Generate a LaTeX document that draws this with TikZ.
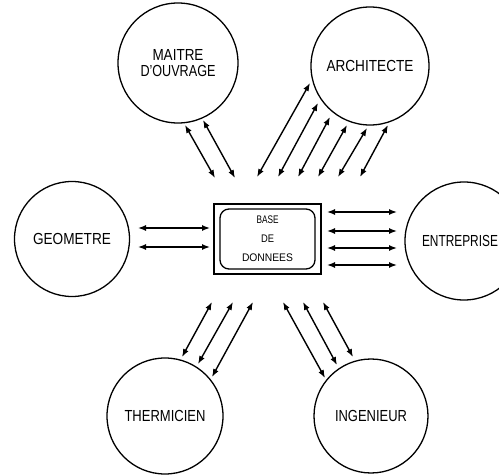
\documentclass[tikz,border=0pt]{standalone}
\usepackage{fontspec}
\setmainfont{Liberation Sans}
\usetikzlibrary{arrows.meta}
\newcommand{\fw}[2]{\resizebox{#1pt}{\height}{#2}}
\begin{document}
\begin{tikzpicture}[x=1pt,y=-1pt,
  actor/.style={circle,draw,line width=1.3pt,inner sep=0pt,align=center,
    font=\fontsize{16}{16}\selectfont},
  arr/.style={{Latex[length=8pt,width=6pt]}-{Latex[length=8pt,width=6pt]},line width=1.4pt},
  frame/.style={draw,line width=1.3pt,inner sep=0pt},
  dbbox/.style={draw,line width=1.3pt,rounded corners=9pt,inner sep=0pt,align=center,
    font=\fontsize{11}{19}\selectfont}]
\clip (0,0) rectangle (499,476);
\fill[white] (0,0) rectangle (499,476);

% actors
\node[actor,minimum size=120pt] (mo) at (178,63) {\fw{51}{MAITRE}\\\fw{75}{D'OUVRAGE}};
\node[actor,minimum size=118pt] (ar) at (370,66) {\fw{87}{ARCHITECTE}};
\node[actor,minimum size=115pt] (ge) at (72,239) {\fw{78}{GEOMETRE}};
\node[actor,minimum size=118pt] (en) at (464,241) {\hspace*{-8pt}\fw{76}{ENTREPRISE}};
\node[actor,minimum size=116pt] (th) at (165,416) {\fw{81}{THERMICIEN}};
\node[actor,minimum size=114pt] (in) at (371,416) {\fw{72}{INGENIEUR}};

% central data base
\node[frame,minimum width=107pt,minimum height=70pt] (frm) at (267.5,239) {};
\node[dbbox,minimum width=95pt,minimum height=60pt] (db) at (267.5,239)
  {\fw{22}{BASE}\\\fw{13}{DE}\\\fw{51}{DONNEES}};

% arrow ends
\coordinate (g1a) at (138,228); \coordinate (g1b) at (210,228);
\coordinate (g2a) at (138,247); \coordinate (g2b) at (210,247);
\coordinate (e1a) at (327,212); \coordinate (e1b) at (397,212);
\coordinate (e2a) at (327,231); \coordinate (e2b) at (397,231);
\coordinate (e3a) at (327,248); \coordinate (e3b) at (397,248);
\coordinate (e4a) at (327,265); \coordinate (e4b) at (397,265);
\coordinate (m1a) at (185,125); \coordinate (m1b) at (215,178);
\coordinate (m2a) at (203,120); \coordinate (m2b) at (235,178);
\coordinate (a1a) at (257,177); \coordinate (a1b) at (310,83);
\coordinate (a2a) at (278,177); \coordinate (a2b) at (318,103);
\coordinate (a3a) at (298,177); \coordinate (a3b) at (330,117);
\coordinate (a4a) at (318,177); \coordinate (a4b) at (347,125);
\coordinate (a5a) at (338,177); \coordinate (a5b) at (367,128);
\coordinate (a6a) at (360,177); \coordinate (a6b) at (388,125);
\coordinate (t1a) at (212,302); \coordinate (t1b) at (182,357);
\coordinate (t2a) at (233,302); \coordinate (t2b) at (198,364);
\coordinate (t3a) at (253,302); \coordinate (t3b) at (212,377);
\coordinate (i1a) at (283,302); \coordinate (i1b) at (325,378);
\coordinate (i2a) at (303,302); \coordinate (i2b) at (337,365);
\coordinate (i3a) at (323,302); \coordinate (i3b) at (353,357);

% connectors
\foreach \p in {g1,g2,e1,e2,e3,e4,m1,m2,a1,a2,a3,a4,a5,a6,t1,t2,t3,i1,i2,i3}
  \draw[arr] (\p a) -- (\p b);
\end{tikzpicture}
\end{document}
